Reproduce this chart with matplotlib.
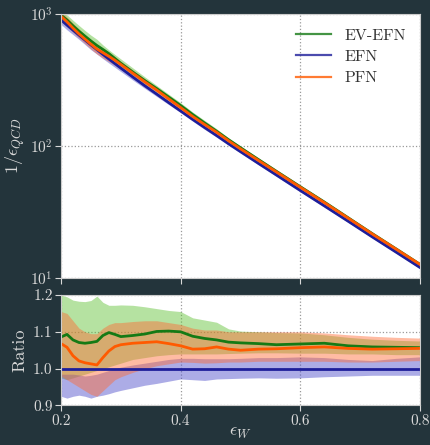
import matplotlib
matplotlib.use("Agg")
import matplotlib.pyplot as plt
import numpy as np

plt.rcParams['font.family'] = 'serif'
plt.rcParams['font.serif'] = ['cmr10', 'DejaVu Serif']
plt.rcParams['mathtext.fontset'] = 'cm'
plt.rcParams['axes.formatter.use_mathtext'] = True

# signal efficiency grid
eps_w = [0.20, 0.21, 0.22, 0.23, 0.24, 0.25, 0.26, 0.27, 0.28, 0.29, 0.30,
         0.32, 0.34, 0.36, 0.38, 0.40, 0.42, 0.44, 0.46, 0.48, 0.50,
         0.53, 0.56, 0.60, 0.64, 0.68, 0.72, 0.76, 0.80]

# EFN background rejection 1/eps_QCD
efn_rej = [902, 824, 755, 692, 635, 583, 537, 494, 456, 421, 389,
           333, 286, 247, 213, 184, 159, 138, 120, 104, 90.6,
           73.8, 60.3, 46.0, 35.2, 26.9, 20.5, 15.7, 12.0]

# ratio to EFN, central values and bands
ev_ratio = [1.086, 1.093, 1.078, 1.071, 1.069, 1.071, 1.074, 1.090, 1.098, 1.093, 1.087,
            1.090, 1.094, 1.101, 1.102, 1.100, 1.088, 1.082, 1.078, 1.072, 1.070,
            1.068, 1.065, 1.067, 1.069, 1.062, 1.059, 1.058, 1.057]
ev_hi = [1.200, 1.195, 1.186, 1.183, 1.182, 1.185, 1.197, 1.180, 1.172, 1.172, 1.173,
         1.172, 1.168, 1.163, 1.158, 1.155, 1.138, 1.132, 1.126, 1.108, 1.102,
         1.100, 1.098, 1.097, 1.092, 1.085, 1.080, 1.077, 1.075]
ev_lo = [0.975, 0.970, 0.975, 0.980, 0.985, 0.990, 0.995, 1.000, 1.005, 1.010, 1.015,
         1.025, 1.030, 1.035, 1.038, 1.040, 1.040, 1.040, 1.040, 1.041, 1.042,
         1.043, 1.043, 1.042, 1.042, 1.040, 1.040, 1.038, 1.038]

pfn_ratio = [1.068, 1.058, 1.035, 1.021, 1.016, 1.013, 1.010, 1.030, 1.048, 1.060, 1.065,
             1.069, 1.071, 1.073, 1.068, 1.062, 1.053, 1.054, 1.059, 1.053, 1.050,
             1.053, 1.054, 1.057, 1.059, 1.055, 1.053, 1.054, 1.055]
pfn_hi = [1.155, 1.150, 1.130, 1.110, 1.100, 1.095, 1.095, 1.110, 1.120, 1.125, 1.125,
          1.128, 1.130, 1.130, 1.125, 1.120, 1.110, 1.105, 1.105, 1.100, 1.100,
          1.100, 1.100, 1.100, 1.097, 1.092, 1.088, 1.085, 1.083]
pfn_lo = [0.980, 0.970, 0.960, 0.950, 0.940, 0.930, 0.925, 0.940, 0.955, 0.970, 0.978,
          0.990, 1.000, 1.008, 1.013, 1.018, 1.017, 1.015, 1.016, 1.018, 1.018,
          1.020, 1.020, 1.020, 1.020, 1.018, 1.018, 1.020, 1.022]

efn_hi = [0.985, 0.985, 0.985, 0.983, 0.980, 0.982, 0.985, 0.990, 0.995, 1.000, 1.004,
          1.010, 1.015, 1.020, 1.025, 1.028, 1.028, 1.027, 1.027, 1.027, 1.028,
          1.030, 1.030, 1.032, 1.030, 1.025, 1.022, 1.028, 1.032]
efn_lo = [0.925, 0.920, 0.925, 0.928, 0.925, 0.920, 0.925, 0.928, 0.932, 0.937, 0.941,
          0.948, 0.955, 0.960, 0.966, 0.972, 0.970, 0.968, 0.972, 0.973, 0.974,
          0.975, 0.974, 0.975, 0.978, 0.980, 0.982, 0.982, 0.982]

x = np.array(eps_w)
base = np.array(efn_rej)
ones = np.ones_like(x)

series = [
    ('EV-EFN', np.array(ev_ratio), np.array(ev_lo), np.array(ev_hi), '#157a15', '#5cbf30'),
    ('EFN', ones, np.array(efn_lo), np.array(efn_hi), '#1e1e9a', '#4848c8'),
    ('PFN', np.array(pfn_ratio), np.array(pfn_lo), np.array(pfn_hi), '#ff5a00', '#ff6a33'),
]

bg = '#23343b'
fg = '#d9d9d9'

fig = plt.figure(figsize=(4.3, 4.45), dpi=100, facecolor=bg)
ax1 = fig.add_axes([0.1419, 0.3753, 0.8349, 0.5933])
ax2 = fig.add_axes([0.1419, 0.0888, 0.8349, 0.2483])

for name, r, lo, hi, c, fc in series:
    ax1.fill_between(x, base * lo, base * hi, color=fc, alpha=0.45, lw=0)
    ax2.fill_between(x, lo, hi, color=fc, alpha=0.45, lw=0)

for name, r, lo, hi, c, fc in series:
    ax1.plot(x, base * r, color=c, lw=2, label=name)
    ax2.plot(x, r, color=c, lw=2)

ax1.set_yscale('log')
ax1.set_ylim(10, 1000)
ax1.set_xlim(0.2, 0.8)
ax2.set_xlim(0.2, 0.8)
ax2.set_ylim(0.9, 1.2)
ax1.minorticks_off()
ax1.set_xticks([0.2, 0.4, 0.6, 0.8])
ax1.set_xticklabels([])
ax2.set_xticks([0.2, 0.4, 0.6, 0.8])
ax2.set_xticklabels(['0.2', '0.4', '0.6', '0.8'])
ax2.set_yticks([0.9, 1.0, 1.1, 1.2])
ax2.set_yticklabels(['0.9', '1.0', '1.1', '1.2'])

for ax in (ax1, ax2):
    ax.set_facecolor('white')
    ax.grid(True, color='#999999', ls=':', lw=0.9)
    ax.set_axisbelow(True)
    ax.tick_params(colors=fg, labelsize=11, length=4, width=0.8, pad=2)
    for s in ax.spines.values():
        s.set_color('#cccccc')

ax1.set_ylabel(r'$1/\epsilon_{QCD}$', color=fg, fontsize=13, labelpad=2)
ax2.set_ylabel('Ratio', color=fg, fontsize=13, labelpad=4)
ax2.set_xlabel(r'$\epsilon_W$', color=fg, fontsize=13, labelpad=-1)

leg = ax1.legend(loc='upper right', frameon=False, fontsize=11.5,
                 handlelength=2.2, labelspacing=0.45)
for t in leg.get_texts():
    t.set_color('#333333')
for h in leg.legend_handles:
    h.set_alpha(0.8)
    h.set_linewidth(1.6)

fig.savefig('out.png', dpi=100, facecolor=bg)
